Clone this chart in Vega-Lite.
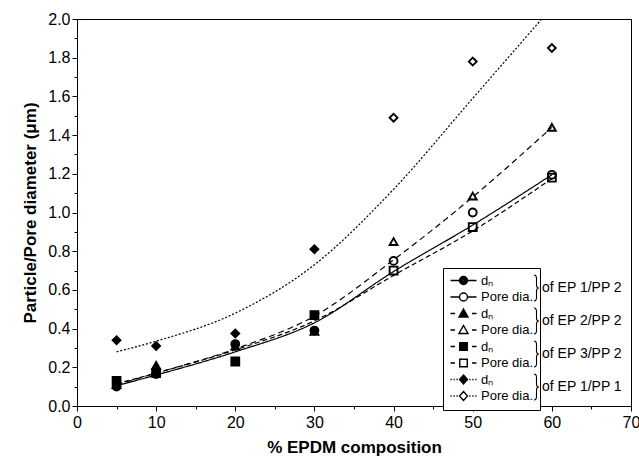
{
  "$schema": "https://vega.github.io/schema/vega-lite/v6.json",
  "width": 554,
  "height": 387,
  "autosize": {"type": "none"},
  "padding": {"left": 77, "top": 19, "right": 8, "bottom": 58},
  "background": "white",
  "config": {
    "view": {"stroke": "black", "strokeWidth": 1},
    "font": "Liberation Sans",
    "axis": {"domainColor": "black", "tickColor": "black", "labelColor": "black", "titleColor": "black", "grid": false, "labelFont": "Liberation Sans", "titleFont": "Liberation Sans", "labelFontSize": 16, "titleFontSize": 17, "titleFontWeight": "bold"},
    "legend": {"labelFont": "Liberation Sans", "labelColor": "black"}
  },
  "datasets": {
    "points": [
      {"series": "EP1PP2_dn", "x": 5, "y": 0.10},
      {"series": "EP1PP2_dn", "x": 10, "y": 0.165},
      {"series": "EP1PP2_dn", "x": 20, "y": 0.32},
      {"series": "EP1PP2_dn", "x": 30, "y": 0.39},
      {"series": "EP1PP2_pore", "x": 40, "y": 0.75},
      {"series": "EP1PP2_pore", "x": 50, "y": 1.00},
      {"series": "EP1PP2_pore", "x": 60, "y": 1.195},
      {"series": "EP2PP2_dn", "x": 5, "y": 0.11},
      {"series": "EP2PP2_dn", "x": 10, "y": 0.21},
      {"series": "EP2PP2_dn", "x": 20, "y": 0.31},
      {"series": "EP2PP2_dn", "x": 30, "y": 0.385},
      {"series": "EP2PP2_pore", "x": 40, "y": 0.85},
      {"series": "EP2PP2_pore", "x": 50, "y": 1.085},
      {"series": "EP2PP2_pore", "x": 60, "y": 1.44},
      {"series": "EP3PP2_dn", "x": 5, "y": 0.13},
      {"series": "EP3PP2_dn", "x": 10, "y": 0.17},
      {"series": "EP3PP2_dn", "x": 20, "y": 0.23},
      {"series": "EP3PP2_dn", "x": 30, "y": 0.47},
      {"series": "EP3PP2_pore", "x": 40, "y": 0.70},
      {"series": "EP3PP2_pore", "x": 50, "y": 0.925},
      {"series": "EP3PP2_pore", "x": 60, "y": 1.18},
      {"series": "EP1PP1_dn", "x": 5, "y": 0.34},
      {"series": "EP1PP1_dn", "x": 10, "y": 0.31},
      {"series": "EP1PP1_dn", "x": 20, "y": 0.375},
      {"series": "EP1PP1_dn", "x": 30, "y": 0.81},
      {"series": "EP1PP1_pore", "x": 40, "y": 1.49},
      {"series": "EP1PP1_pore", "x": 50, "y": 1.78},
      {"series": "EP1PP1_pore", "x": 60, "y": 1.85}
    ],
    "fits": [
      {"group": "EP 1/PP 2", "x": 5, "y": 0.105},
      {"group": "EP 1/PP 2", "x": 10, "y": 0.16},
      {"group": "EP 1/PP 2", "x": 20, "y": 0.28},
      {"group": "EP 1/PP 2", "x": 30, "y": 0.43},
      {"group": "EP 1/PP 2", "x": 40, "y": 0.695},
      {"group": "EP 1/PP 2", "x": 50, "y": 0.935},
      {"group": "EP 1/PP 2", "x": 60, "y": 1.195},
      {"group": "EP 2/PP 2", "x": 5, "y": 0.11},
      {"group": "EP 2/PP 2", "x": 10, "y": 0.17},
      {"group": "EP 2/PP 2", "x": 20, "y": 0.295},
      {"group": "EP 2/PP 2", "x": 30, "y": 0.465},
      {"group": "EP 2/PP 2", "x": 40, "y": 0.755},
      {"group": "EP 2/PP 2", "x": 50, "y": 1.08},
      {"group": "EP 2/PP 2", "x": 60, "y": 1.44},
      {"group": "EP 3/PP 2", "x": 5, "y": 0.115},
      {"group": "EP 3/PP 2", "x": 10, "y": 0.17},
      {"group": "EP 3/PP 2", "x": 20, "y": 0.29},
      {"group": "EP 3/PP 2", "x": 30, "y": 0.44},
      {"group": "EP 3/PP 2", "x": 40, "y": 0.675},
      {"group": "EP 3/PP 2", "x": 50, "y": 0.905},
      {"group": "EP 3/PP 2", "x": 60, "y": 1.175},
      {"group": "EP 1/PP 1", "x": 5, "y": 0.28},
      {"group": "EP 1/PP 1", "x": 10, "y": 0.335},
      {"group": "EP 1/PP 1", "x": 20, "y": 0.48},
      {"group": "EP 1/PP 1", "x": 30, "y": 0.73},
      {"group": "EP 1/PP 1", "x": 40, "y": 1.12},
      {"group": "EP 1/PP 1", "x": 50, "y": 1.59},
      {"group": "EP 1/PP 1", "x": 60, "y": 2.06}
    ],
    "none": []
  },
  "encoding": {
    "x": {
      "field": "x", "type": "quantitative",
      "scale": {"domain": [0, 70], "nice": false, "zero": false},
      "axis": {
        "title": "% EPDM composition",
        "values": [0, 5, 10, 15, 20, 25, 30, 35, 40, 45, 50, 55, 60, 65, 70],
        "labelExpr": "datum.value % 10 === 0 ? datum.label : ''",
        "tickSize": {"condition": {"test": "datum.value % 10 === 0", "value": 5}, "value": 3},
        "labelPadding": 3, "titlePadding": 9, "labelFlush": false, "labelOverlap": false
      }
    },
    "y": {
      "field": "y", "type": "quantitative",
      "scale": {"domain": [0, 2], "nice": false},
      "axis": {
        "title": "Particle/Pore diameter (μm)",
        "values": [0, 0.1, 0.2, 0.3, 0.4, 0.5, 0.6, 0.7, 0.8, 0.9, 1, 1.1, 1.2, 1.3, 1.4, 1.5, 1.6, 1.7, 1.8, 1.9, 2],
        "labelExpr": "round(datum.value * 10) % 2 === 0 ? format(datum.value, '.1f') : ''",
        "tickSize": {"condition": {"test": "round(datum.value * 10) % 2 === 0", "value": 5}, "value": 3},
        "labelPadding": 2, "titlePadding": 8, "labelFlush": false, "labelOverlap": false
      }
    }
  },
  "layer": [
    {
      "data": {"name": "none"},
      "mark": {"type": "point", "filled": false, "opacity": 1, "color": "black", "strokeWidth": 1.4},
      "encoding": {
        "shape": {
          "field": "entry", "type": "nominal",
          "scale": {"domain": ["a_dn", "a_pore", "b_dn", "b_pore", "c_dn", "c_pore", "d_dn", "d_pore"],
                    "range": [
                      "M-2.6,0L-0.8,0M0.8,0L2.6,0M-0.8,0A0.8,0.8,0,1,0,0.8,0A0.8,0.8,0,1,0,-0.8,0ZM-0.55,0A0.55,0.55,0,1,0,0.55,0A0.55,0.55,0,1,0,-0.55,0ZM-0.3,0A0.3,0.3,0,1,0,0.3,0A0.3,0.3,0,1,0,-0.3,0ZM-0.08,0A0.08,0.08,0,1,0,0.08,0A0.08,0.08,0,1,0,-0.08,0Z",
                      "M-2.6,0L-0.8,0M0.8,0L2.6,0M-0.8,0A0.8,0.8,0,1,0,0.8,0A0.8,0.8,0,1,0,-0.8,0Z",
                      "M-2.6,0L-1.7,0M1.7,0L2.6,0M0,-0.9L0.9,0.7L-0.9,0.7ZM0,-0.527L0.585,0.513L-0.585,0.513ZM0,-0.207L0.315,0.353L-0.315,0.353ZM0,0.06L0.09,0.22L-0.09,0.22Z",
                      "M-2.6,0L-1.7,0M1.7,0L2.6,0M0,-0.9L0.9,0.7L-0.9,0.7Z",
                      "M-2.6,0L-1.7,0M1.7,0L2.6,0M-0.75,-0.75L0.75,-0.75L0.75,0.75L-0.75,0.75ZM-0.5,-0.5L0.5,-0.5L0.5,0.5L-0.5,0.5ZM-0.25,-0.25L0.25,-0.25L0.25,0.25L-0.25,0.25ZM-0.05,-0.05L0.05,-0.05L0.05,0.05L-0.05,0.05Z",
                      "M-2.6,0L-1.7,0M1.7,0L2.6,0M-0.75,-0.75L0.75,-0.75L0.75,0.75L-0.75,0.75Z",
                      "M-2.6,0L-2.35,0M-2,0L-1.75,0M-1.4,0L-1.15,0M1.15,0L1.4,0M1.75,0L2,0M2.35,0L2.6,0M0,-0.9L0.8,0L0,0.9L-0.8,0ZM0,-0.6L0.53,0L0,0.6L-0.53,0ZM0,-0.3L0.27,0L0,0.3L-0.27,0ZM0,-0.05L0.05,0L0,0.05L-0.05,0Z",
                      "M-2.6,0L-2.35,0M-2,0L-1.75,0M-1.4,0L-1.15,0M1.15,0L1.4,0M1.75,0L2,0M2.35,0L2.6,0M0,-0.9L0.8,0L0,0.9L-0.8,0Z"
                    ]},
          "legend": {
            "title": null, "orient": "none", "legendX": 366, "legendY": 249,
            "padding": 6, "strokeColor": "black", "fillColor": "white", "cornerRadius": 0,
            "symbolSize": 100, "symbolOffset": 8, "symbolStrokeColor": "black", "symbolFillColor": "transparent", "symbolStrokeWidth": 1.4,
            "labelOffset": 11, "rowPadding": 1.5, "labelFontSize": 13, "labelLimit": 400,
            "labelExpr": "indexof(datum.label, '_dn') >= 0 ? 'dₙ' : 'Pore dia.                           '",
            "zindex": 1
          }
        }
      }
    },
    {
      "data": {"name": "none"},
      "mark": {"type": "point", "filled": false, "opacity": 1, "color": "black", "strokeWidth": 1.1},
      "encoding": {
        "shape": {
          "field": "pair", "type": "nominal",
          "scale": {"domain": ["EP 1/PP 2", "EP 2/PP 2", "EP 3/PP 2", "EP 1/PP 1"],
                    "range": [
                      "M0,-2.6C0.5,-2.6,0.5,-2.3,0.5,-1.9L0.5,-0.6C0.5,-0.2,0.7,0,1,0C0.7,0,0.5,0.2,0.5,0.6L0.5,1.9C0.5,2.3,0.5,2.6,0,2.6",
                      "M0,-2.6C0.5,-2.6,0.5,-2.3,0.5,-1.9L0.5,-0.6C0.5,-0.2,0.7,0,1,0C0.7,0,0.5,0.2,0.5,0.6L0.5,1.9C0.5,2.3,0.5,2.6,0,2.6",
                      "M0,-2.6C0.5,-2.6,0.5,-2.3,0.5,-1.9L0.5,-0.6C0.5,-0.2,0.7,0,1,0C0.7,0,0.5,0.2,0.5,0.6L0.5,1.9C0.5,2.3,0.5,2.6,0,2.6",
                      "M0,-2.6C0.5,-2.6,0.5,-2.3,0.5,-1.9L0.5,-0.6C0.5,-0.2,0.7,0,1,0C0.7,0,0.5,0.2,0.5,0.6L0.5,1.9C0.5,2.3,0.5,2.6,0,2.6"
                    ]},
          "legend": {
            "title": null, "orient": "none", "legendX": 450, "legendY": 262,
            "padding": 0, "symbolSize": 100, "symbolStrokeColor": "black", "symbolFillColor": "transparent", "symbolStrokeWidth": 1.1,
            "labelOffset": 1, "rowPadding": 1, "labelFontSize": 14, "labelLimit": 400,
            "labelExpr": "'of ' + datum.label",
            "zindex": 2
          }
        }
      }
    },
    {
      "data": {"name": "fits"},
      "mark": {"type": "line", "color": "black", "interpolate": "monotone", "clip": true},
      "encoding": {
        "strokeDash": {
          "field": "group", "type": "nominal",
          "scale": {"domain": ["EP 1/PP 2", "EP 2/PP 2", "EP 3/PP 2", "EP 1/PP 1"], "range": [[1, 0], [6, 4], [5, 3], [2, 1.8]]},
          "legend": null
        },
        "size": {
          "field": "group", "type": "nominal",
          "scale": {"domain": ["EP 1/PP 2", "EP 2/PP 2", "EP 3/PP 2", "EP 1/PP 1"], "range": [1.2, 1.2, 1.2, 2]},
          "legend": null
        }
      }
    },
    {
      "data": {"name": "points"},
      "mark": {"type": "point", "filled": true, "opacity": 1, "stroke": "black", "strokeWidth": 1.9, "size": 62},
      "encoding": {
        "shape": {
          "field": "series", "type": "nominal",
          "scale": {"domain": ["EP1PP2_dn", "EP1PP2_pore", "EP2PP2_dn", "EP2PP2_pore", "EP3PP2_dn", "EP3PP2_pore", "EP1PP1_dn", "EP1PP1_pore"],
                    "range": ["circle", "circle", "triangle-up", "triangle-up", "square", "square", "diamond", "diamond"]},
          "legend": null
        },
        "fill": {
          "field": "series", "type": "nominal",
          "scale": {"domain": ["EP1PP2_dn", "EP1PP2_pore", "EP2PP2_dn", "EP2PP2_pore", "EP3PP2_dn", "EP3PP2_pore", "EP1PP1_dn", "EP1PP1_pore"],
                    "range": ["black", "transparent", "black", "transparent", "black", "transparent", "black", "transparent"]},
          "legend": null
        }
      }
    }
  ],
  "resolve": {
    "scale": {"shape": "independent", "fill": "independent"},
    "legend": {"shape": "independent", "fill": "independent"}
  }
}
